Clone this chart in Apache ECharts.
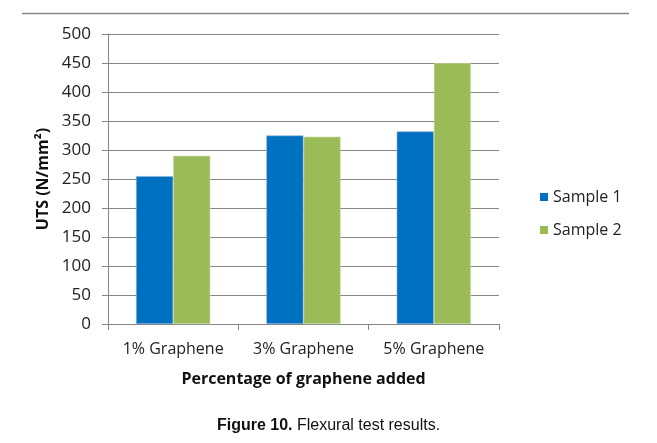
<!DOCTYPE html>
<html>
<head>
<meta charset="utf-8">
<script src="https://cdn.jsdelivr.net/npm/echarts@6/dist/echarts.min.js"></script>
<style>
  html, body { margin: 0; padding: 0; background: #fff; }
  #chart { width: 657px; height: 443px; }
</style>
</head>
<body>
<div id="chart"></div>
<script>
const categories = ['1% Graphene', '3% Graphene', '5% Graphene'];
const sample1 = [255, 325, 332];
const sample2 = [290, 323, 450];
const seriesNames = ['Sample 1', 'Sample 2'];
const yTicks = { min: 0, max: 500, interval: 50 };

const FONT = 'Open Sans';
const chart = echarts.init(document.getElementById('chart'), null, { renderer: 'canvas' });
chart.setOption({
  animation: false,
  backgroundColor: '#fff',
  grid: { left: 108, right: 158, top: 34, bottom: 119, containLabel: false },
  legend: {
    orient: 'vertical',
    left: 535,
    top: 184,
    icon: 'rect',
    itemWidth: 8,
    itemHeight: 8,
    itemGap: 17,
    itemStyle: { borderWidth: 0 },
    textStyle: { fontFamily: FONT, fontSize: 16, color: '#222' },
    data: seriesNames
  },
  xAxis: {
    type: 'category',
    data: categories,
    boundaryGap: true,
    axisLine: { lineStyle: { color: '#868686', width: 1 } },
    axisTick: { show: true, length: 6, lineStyle: { color: '#868686' } },
    axisLabel: { fontFamily: FONT, fontSize: 16, color: '#222', margin: 17, interval: 0, hideOverlap: false },
    name: 'Percentage of graphene added',
    nameLocation: 'middle',
    nameGap: 47,
    nameTextStyle: { fontFamily: FONT, fontSize: 16, fontWeight: 'bold', color: '#111' }
  },
  yAxis: {
    type: 'value',
    min: yTicks.min, max: yTicks.max, interval: yTicks.interval,
    axisLine: { show: true, lineStyle: { color: '#868686', width: 1 } },
    axisTick: { show: true, length: 6, lineStyle: { color: '#868686' } },
    splitLine: { show: true, lineStyle: { color: '#868686', width: 1 } },
    axisLabel: { fontFamily: FONT, fontSize: 17, color: '#222', margin: 17 },
    name: 'UTS (N/mm²)',
    nameLocation: 'middle',
    nameRotate: 90,
    nameGap: 52,
    nameTextStyle: { fontFamily: FONT, fontSize: 16, fontWeight: 'bold', color: '#111' }
  },
  series: [
    { name: seriesNames[0], type: 'bar', data: sample1, barGap: '0%', barCategoryGap: '43%',
      itemStyle: { color: '#0070C0', borderColor: '#8eb4d8', borderWidth: 0.6 } },
    { name: seriesNames[1], type: 'bar', data: sample2, barGap: '0%', barCategoryGap: '43%',
      itemStyle: { color: '#9BBB59', borderColor: '#cfe0b0', borderWidth: 0.6 } }
  ],
  graphic: [
    { type: 'line', shape: { x1: 22, y1: 13.5, x2: 629, y2: 13.5 }, style: { stroke: '#868686', lineWidth: 1.5 } },
    { type: 'text', left: 'center', top: 418,
      style: {
        text: '{b|Figure 10.} Flexural test results.',
        font: '16px "Liberation Sans"',
        fill: '#111',
        rich: { b: { fontWeight: 'bold', fontSize: 16, fontFamily: 'Liberation Sans', fill: '#111' } }
      }
    }
  ]
});
</script>
</body>
</html>
